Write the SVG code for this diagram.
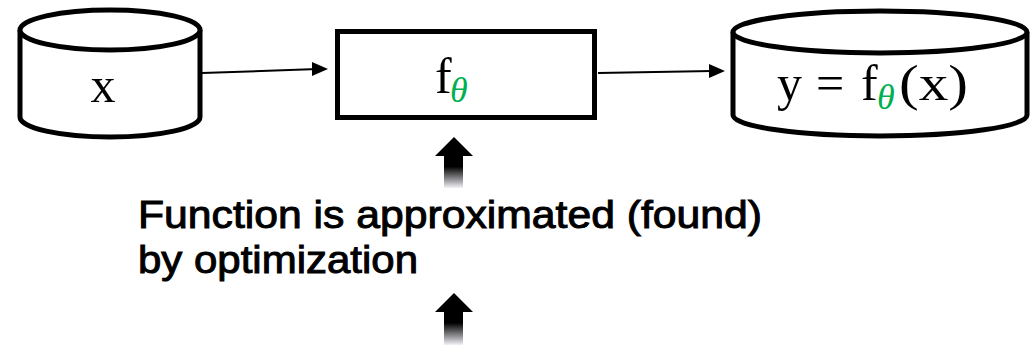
<svg xmlns="http://www.w3.org/2000/svg" width="1030" height="345" viewBox="0 0 1030 345">
<style>
.shape{fill:#fff;stroke:#000;stroke-width:5}
.conn{stroke:#000;stroke-width:2;fill:none}
.math{font-family:"Liberation Serif","DejaVu Serif",serif;font-size:50px;fill:#000}
.theta{font-family:"Liberation Serif","DejaVu Serif",serif;font-style:italic;font-size:36px;fill:#00b050}
.label{font-family:"Liberation Sans","DejaVu Sans",sans-serif;font-size:39px;fill:#000;stroke:#000;stroke-width:1}
</style>
<defs>
<linearGradient id="fade" x1="0" y1="0" x2="0" y2="1">
<stop offset="0" stop-color="#000"/>
<stop offset="0.35" stop-color="#000"/>
<stop offset="1" stop-color="#f2f2f8"/>
</linearGradient>
</defs>
<g id="connectors">
<line class="conn" x1="202" y1="73" x2="318" y2="69"/>
<path d="M312,62 L328,69 L312,76 Z" fill="#000"/>
<line class="conn" x1="598" y1="73" x2="712" y2="71"/>
<path d="M709,64 L725,71 L709,78 Z" fill="#000"/>
</g>
<g id="node-x">
<path class="shape" d="M20,30 L20,117 A90,20 0 0 0 200,117 L200,30"/>
<ellipse class="shape" cx="110" cy="30" rx="90" ry="20"/>
<text class="math" x="103" y="102" text-anchor="middle">x</text>
</g>
<g id="node-f">
<rect class="shape" x="337.5" y="31.5" width="257" height="86"/>
<text class="math" x="435" y="93">f</text>
<text class="theta" x="450" y="102">θ</text>
</g>
<g id="node-y">
<path class="shape" d="M733,32 L733,115 A147,21 0 0 0 1027,115 L1027,32"/>
<ellipse class="shape" cx="880" cy="32" rx="147" ry="21"/>
<text class="math" x="777" y="100">y</text>
<text class="math" x="816" y="100">=</text>
<text class="math" x="861" y="100">f</text>
<text class="theta" x="877" y="109">θ</text>
<text class="math" x="899" y="100" textLength="69" lengthAdjust="spacingAndGlyphs">(x)</text>
</g>
<g id="arrow-up-1">
<path d="M435,156 L454,137 L473,156 Z" fill="#000"/>
<rect x="444" y="155" width="19" height="33" fill="url(#fade)"/>
</g>
<g id="caption">
<text class="label" x="138" y="228" textLength="624" lengthAdjust="spacingAndGlyphs">Function is approximated (found)</text>
<text class="label" x="138" y="273" textLength="280" lengthAdjust="spacingAndGlyphs">by optimization</text>
</g>
<g id="arrow-up-2">
<path d="M435,312 L454,293 L473,312 Z" fill="#000"/>
<rect x="444" y="311" width="19" height="34" fill="url(#fade)"/>
</g>
</svg>
